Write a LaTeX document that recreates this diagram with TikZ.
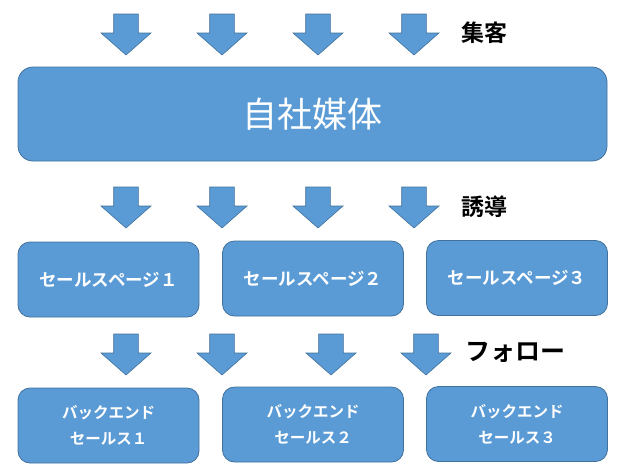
\documentclass[tikz,border=0pt]{standalone}
\usepackage{fontspec}
\newfontfamily\cjk{Noto Sans CJK JP}
\newfontfamily\cjkb{Noto Sans CJK JP Bold}
\definecolor{boxblue}{HTML}{5B9BD5}
\definecolor{boxedge}{HTML}{41719C}
\tikzset{
  blueshape/.style={fill=boxblue, draw=boxedge, line width=0.8pt},
  bigbox/.style={blueshape, rounded corners=15pt, minimum width=589pt, minimum height=94pt, inner sep=0pt, text=white, font=\cjk\fontsize{35}{40}\selectfont},
  smallbox/.style={blueshape, rounded corners=12pt, minimum width=181pt, minimum height=75pt, inner sep=0pt, text=white, align=center},
  salesfont/.style={font=\cjkb\fontsize{17.5}{20}\selectfont},
  backfont/.style={font=\cjkb\fontsize{15.5}{26}\selectfont},
  sidelabel/.style={anchor=west, inner sep=0pt, font=\cjkb\fontsize{23}{26}\selectfont},
  darrow/.pic={\draw[blueshape, line width=0.6pt] (-12.3,0) -- (12.3,0) -- (12.3,19) -- (25,19) -- (0,41) -- (-25,19) -- (-12.3,19) -- cycle;}
}
\begin{document}
\begin{tikzpicture}[x=1pt, y=-1pt]
\useasboundingbox (0,0) rectangle (621,475);
% row 1 arrows
\foreach \xx in {126,222,318,414} \pic at (\xx,14) {darrow};
\node[sidelabel] (shukyaku) at (461,33) {集客};
\node[bigbox] (media) at (312.5,114) {自社媒体};
% row 2 arrows
\foreach \xx in {126,222,318,414} \pic at (\xx,187) {darrow};
\node[sidelabel] (yudo) at (461,207) {誘導};
\node[smallbox, salesfont] (sp1) at (108.5,279.5) {セールスページ１};
\node[smallbox, salesfont] (sp2) at (313,278.5) {セールスページ２};
\node[smallbox, salesfont] (sp3) at (517,278) {セールスページ３};
% row 3 arrows
\foreach \xx in {126,222,331,426} \pic at (\xx,334) {darrow};
\node[sidelabel, font=\cjkb\fontsize{25}{28}\selectfont] (follow) at (465,352) {フォロー};
\node[smallbox, backfont] (be1) at (108.5,425.5) {バックエンド\\セールス１};
\node[smallbox, backfont] (be2) at (313,424.5) {バックエンド\\セールス２};
\node[smallbox, backfont] (be3) at (517,424) {バックエンド\\セールス３};
\end{tikzpicture}
\end{document}
